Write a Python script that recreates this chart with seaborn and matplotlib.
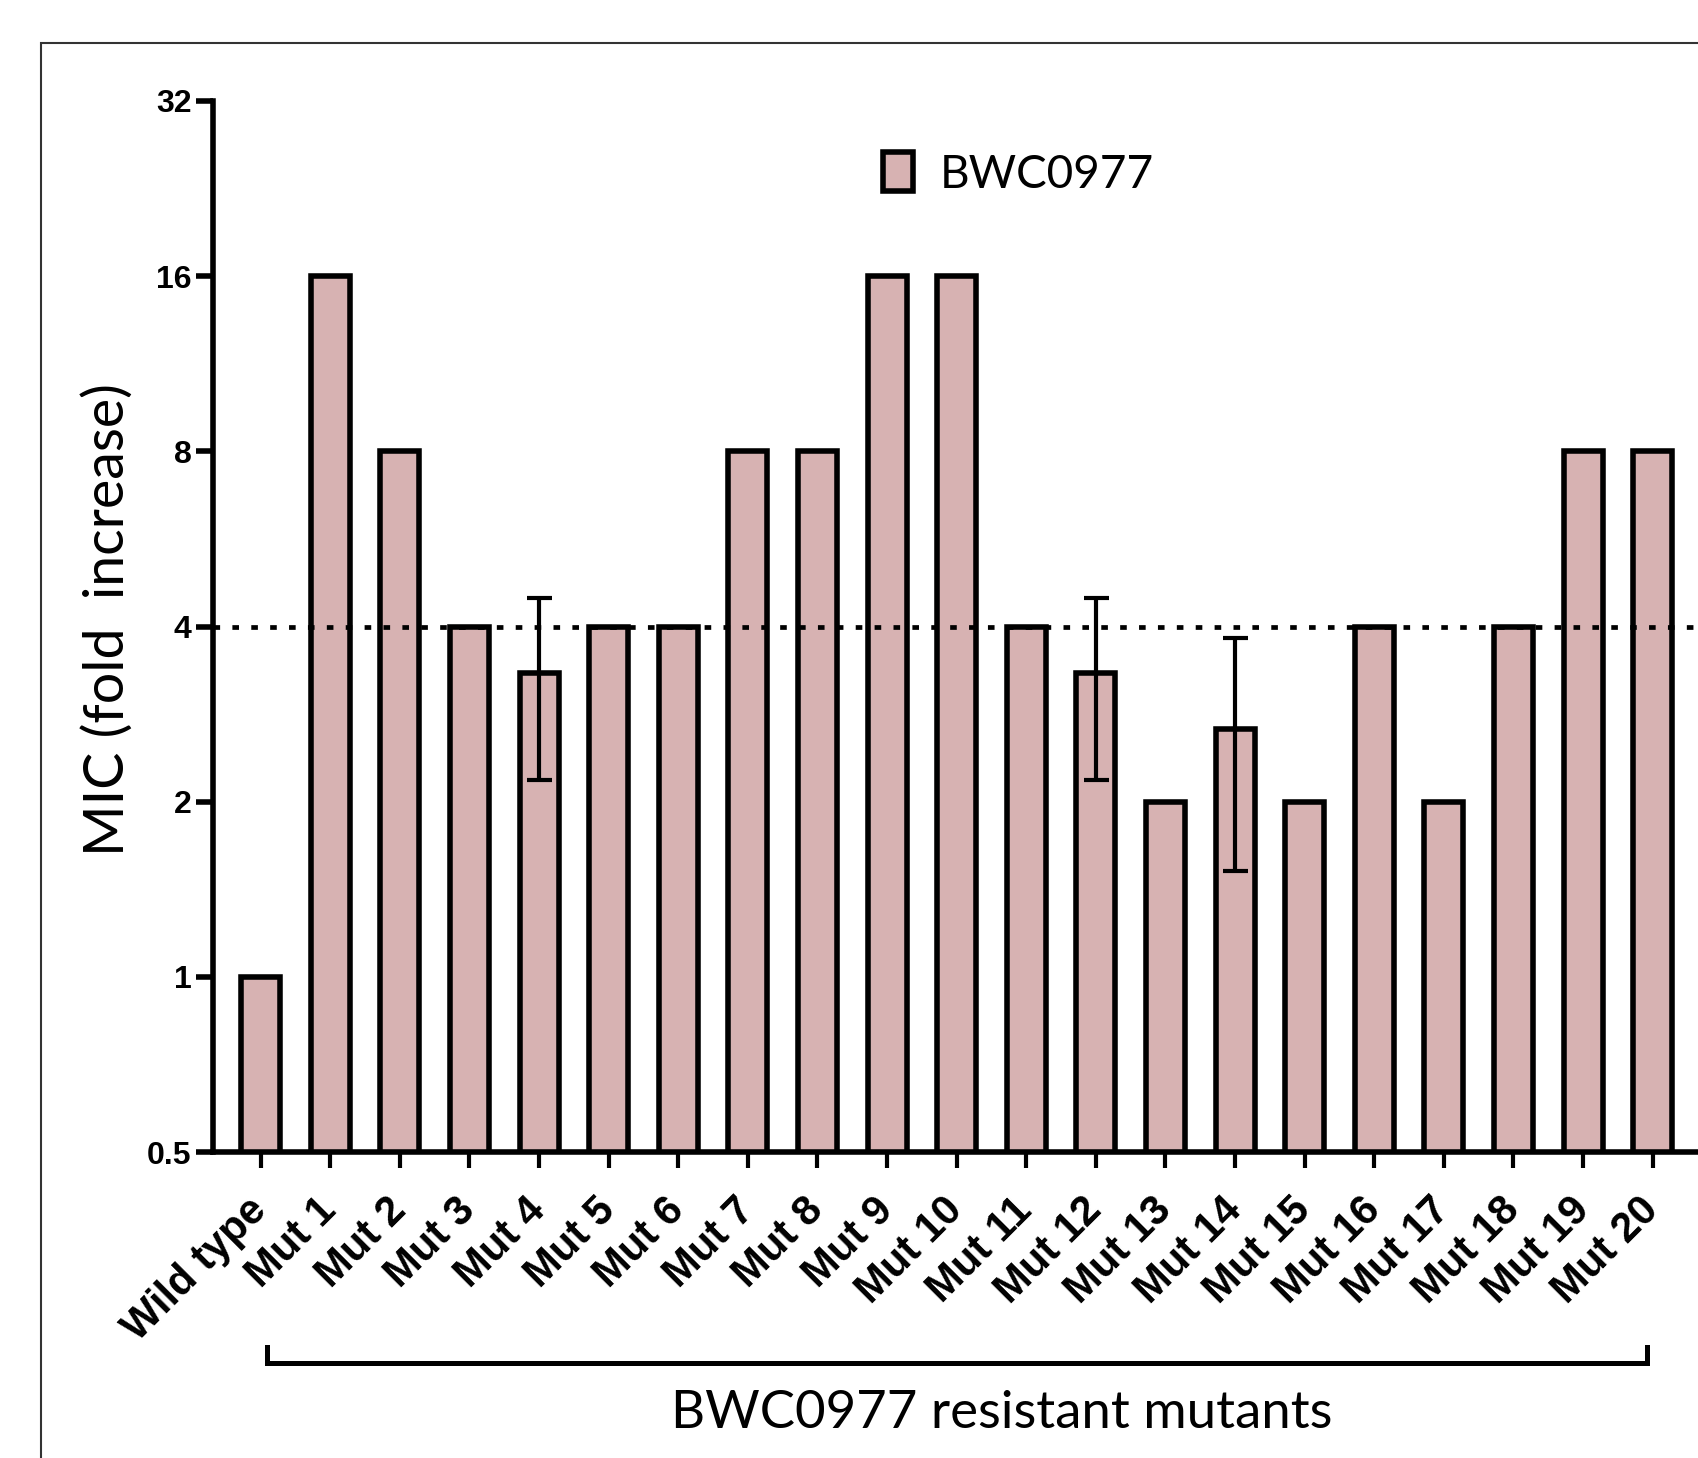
import numpy as np
import pandas as pd
import matplotlib
matplotlib.use("Agg")
import matplotlib.pyplot as plt
import matplotlib.transforms as mtransforms
from matplotlib.patches import Rectangle, Patch
from matplotlib.lines import Line2D
from matplotlib.ticker import NullLocator, FixedLocator, FixedFormatter
import seaborn as sns

# ---------------- data ----------------
categories = ["Wild type", "Mut 1", "Mut 2", "Mut 3", "Mut 4", "Mut 5", "Mut 6",
              "Mut 7", "Mut 8", "Mut 9", "Mut 10", "Mut 11", "Mut 12", "Mut 13",
              "Mut 14", "Mut 15", "Mut 16", "Mut 17", "Mut 18", "Mut 19", "Mut 20"]
mic_fold = [1, 16, 8, 4, 3.33, 4, 4, 8, 8, 16, 16, 4, 3.33, 2, 2.67, 2, 4, 2, 4, 8, 8]
mic_sd = [0, 0, 0, 0, 1.15, 0, 0, 0, 0, 0, 0, 0, 1.15, 0, 1.15, 0, 0, 0, 0, 0, 0]
y_ticks = [0.5, 1, 2, 4, 8, 16, 32]
y_tick_labels = ["0.5", "1", "2", "4", "8", "16", "32"]
threshold = 4
legend_label = "BWC0977"
y_label = "MIC (fold  increase)"
group_label = "BWC0977 resistant mutants"

bar_color = "#d7b2b2"

sns.set_style("white")
plt.rcParams["font.family"] = ["Liberation Sans", "DejaVu Sans"]
plt.rcParams["text.color"] = "black"
plt.rcParams["xtick.color"] = "black"
plt.rcParams["ytick.color"] = "black"

W, H = 1699, 1458
fig = plt.figure(figsize=(W / 100, H / 100), dpi=100)

x_left, x_right = -0.685, 20.9
unit = 69.6
ax_l = 213 / W
ax_w = (x_right - x_left) * unit / W
ax_b = 1 - 1152 / H
ax_h = (1152 - 101) / H
ax = fig.add_axes([ax_l, ax_b, ax_w, ax_h])
ax.set_yscale("log", base=2)

df = pd.DataFrame({"strain": categories, "mic": mic_fold, "sd": mic_sd})
sns.barplot(data=df, x="strain", y="mic", color=bar_color, saturation=1,
            width=0.56, edgecolor="black", linewidth=4.0, errorbar=None, ax=ax)

# error bars (mean +/- SD) where present
err = df[df["sd"] > 0]
xpos = [categories.index(s) for s in err["strain"]]
ax.errorbar(xpos, err["mic"], yerr=err["sd"], fmt="none", ecolor="black",
            elinewidth=3.0, capsize=9, capthick=3.0, zorder=5)

# threshold dotted line
ax.axhline(threshold, color="black", lw=3.4, linestyle=(0, (1.4, 2.6)), zorder=6)

ax.set_xlim(x_left, x_right)
ax.set_ylim(0.5, 32)
ax.yaxis.set_major_locator(FixedLocator(y_ticks))
ax.yaxis.set_major_formatter(FixedFormatter(y_tick_labels))
ax.yaxis.set_minor_locator(NullLocator())
ax.set_xlabel("")
ax.set_ylabel("")

for s in ["top", "right"]:
    ax.spines[s].set_visible(False)
for s in ["left", "bottom"]:
    ax.spines[s].set_linewidth(4.0)
    ax.spines[s].set_color("black")

ax.tick_params(axis="y", which="major", length=12, width=4.0, pad=3.5,
               direction="out", left=True, labelsize=23, colors="black")
ax.tick_params(axis="x", which="major", length=11.5, width=3.0, pad=26,
               direction="out", bottom=True, colors="black")
for lab in ax.get_yticklabels():
    lab.set_fontweight("bold")
    lab.set_family(["Liberation Sans Narrow", "Liberation Sans", "DejaVu Sans"])
ax.set_xticks(range(len(categories)))
ax.set_xticklabels(categories, rotation=45, ha="right", rotation_mode="anchor",
                   fontsize=30, fontweight="bold", va="center")

# y label
fig.text(108 / W, 1 - 620 / H, y_label, rotation=90, ha="center", va="center",
         fontsize=40, family=["Lato", "DejaVu Sans"])

# bracket under mutants
trans = mtransforms.blended_transform_factory(ax.transData, fig.transFigure)
yt, yb = 1 - 1347 / H, 1 - 1363 / H
bx0, bx1 = 0.09, 19.92
fig.add_artist(Line2D([bx0, bx0, bx1, bx1], [yt, yb, yb, yt], transform=trans,
                      color="black", lw=3.6, solid_joinstyle="miter",
                      solid_capstyle="projecting"))
fig.text(1002 / W, 1 - 1413 / H, group_label, ha="center", va="center",
         fontsize=38, family=["Lato", "DejaVu Sans"])

# legend
handle = Patch(facecolor=bar_color, edgecolor="black", linewidth=4.0)
fig.legend([handle], [legend_label], loc="center left",
           bbox_to_anchor=(883 / W, 1 - 174 / H), frameon=False,
           prop={"family": ["Lato", "DejaVu Sans"], "size": 33},
           handlelength=0.66, handleheight=0.93, handletextpad=0.58,
           borderpad=0, borderaxespad=0)

# outer frame of the figure panel
fig.add_artist(Rectangle((41 / W, -0.1), 1.2, 1 - 43 / H + 0.1,
                         transform=fig.transFigure, fill=False,
                         lw=1.5, edgecolor="#333333"))

fig.savefig("out.png", dpi=100)
